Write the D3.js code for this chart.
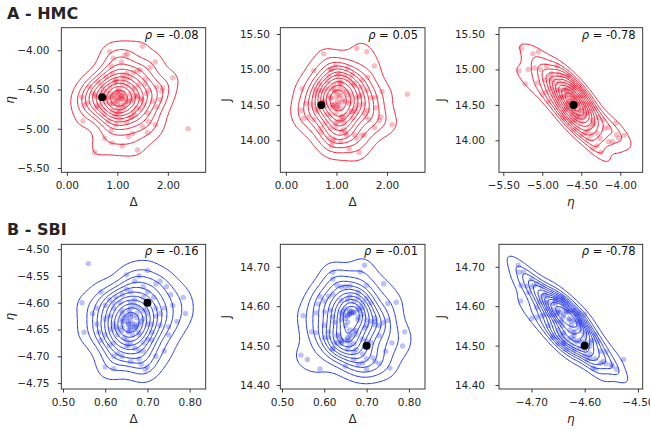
<!DOCTYPE html>
<html><head><meta charset="utf-8">
<script src="https://cdn.jsdelivr.net/npm/d3@7"></script>
<style>body{margin:0;background:#fff} svg{display:block} text{font-family:"DejaVu Sans",sans-serif}</style>
</head><body><script>
// ---------------- DATA ----------------
const hmcDelta=[1.02,0.88,1.15,1.30,0.74,0.95,2.10,2.40,1.08,1.22,0.62,1.45,1.00,0.82,1.18,0.98,1.35,1.05,0.70,1.40,
1.60,0.75,1.75,1.50,0.85,1.45,1.25,0.90,0.55,1.10,1.20,0.30,0.32,1.05,0.92,1.12,0.66,1.55,1.28,0.58,
0.96,1.38,1.03,1.16,0.88,0.97,0.80,1.25,1.60,0.45,1.00,1.10,1.32,1.22,0.68,1.48,0.90,1.10,1.40,1.05,
0.78,1.70,1.88,1.02,1.15,0.85,0.60,1.35,1.08,0.94,1.20,1.62,1.18,0.98,0.40,1.06,0.72,1.42,1.30,0.88,
0.52,0.84,1.15,1.02,1.35,0.88,1.78,1.05,1.65,1.50,1.85,1.12,0.76,0.95,1.25,0.99,1.08,0.92,0.65,1.32,
1.78,1.00,1.10,0.55,0.95,1.48,0.80,1.12,1.02,0.90,1.20,1.62,1.38,1.55,0.58,0.82,1.28,0.72,0.98,1.40,
1.08,1.58,1.15,0.90,0.35,1.90,1.75,1.30,1.52,0.92];
const hmcEta=[-4.60,-4.55,-4.70,-4.48,-4.82,-4.62,-4.35,-5.00,-4.58,-4.66,-4.40,-4.75,-4.52,-4.90,-4.30,-4.64,-4.57,-4.78,-4.45,-5.27,
-5.05,-5.12,-4.95,-3.95,-4.02,-4.25,-4.35,-4.30,-5.30,-5.22,-4.05,-4.60,-4.90,-4.62,-4.68,-4.54,-4.71,-4.43,-4.85,-4.59,
-4.38,-4.73,-4.50,-4.66,-4.20,-4.95,-4.61,-4.56,-4.80,-4.47,-4.69,-4.62,-4.28,-5.10,-4.55,-4.63,-4.77,-4.42,-4.58,-4.88,
-4.34,-4.65,-4.52,-4.74,-4.60,-4.46,-4.70,-4.83,-4.15,-4.57,-4.64,-4.51,-4.92,-4.39,-4.67,-4.59,-4.76,-4.44,-4.62,-5.02,
-4.55,-4.68,-4.36,-4.80,-4.49,-4.61,-4.72,-4.53,-4.22,-4.97,-4.63,-4.58,-4.66,-4.41,-4.86,-4.54,-4.70,-4.10,-4.60,-4.79,
-4.47,-4.65,-4.33,-4.57,-4.84,-4.62,-4.52,-4.74,-4.56,-4.68,-4.45,-4.91,-4.60,-4.37,-4.73,-4.59,-4.64,-4.50,-4.81,-4.26,
-4.62,-4.55,-4.06,-5.18,-4.70,-4.48,-4.15,-5.06,-4.69,-4.58];
const hmcJ=[14.55,14.35,14.71,14.41,14.56,14.77,14.22,14.65,14.28,14.64,14.41,14.62,14.61,14.83,14.10,14.24,14.77,14.82,14.11,15.30,
15.25,15.22,15.05,14.07,14.03,13.83,13.88,13.92,14.98,14.80,14.08,14.42,14.73,14.52,14.46,14.54,14.80,14.39,14.64,14.64,
14.51,14.40,14.26,14.91,14.17,14.68,14.49,14.52,14.71,14.33,14.69,14.34,14.32,15.02,14.17,14.75,14.60,14.13,14.60,14.94,
14.24,14.60,14.33,14.91,14.15,14.63,14.44,14.80,13.98,14.49,14.69,14.42,14.55,14.18,14.52,14.74,14.70,14.50,14.40,15.00,
14.50,14.90,14.29,14.49,14.08,14.59,14.61,14.63,14.29,14.85,14.28,14.58,14.54,14.02,14.86,14.39,14.64,13.98,14.70,14.93,
14.46,14.45,14.45,14.29,14.71,14.64,14.73,14.33,14.46,14.73,14.36,14.89,14.45,14.08,14.72,14.37,14.56,14.53,15.05,14.03,
14.82,14.33,14.24,15.00,14.31,14.69,14.18,14.81,14.51,14.50];

const sbiDelta=[0.66,0.64,0.67,0.70,0.63,0.68,0.72,0.65,0.66,0.69,0.61,0.655,0.745,0.56,0.59,0.65,0.785,0.62,0.695,0.685,
0.55,0.74,0.72,0.60,0.755,0.545,0.79,0.67,0.64,0.65,0.68,0.62,0.70,0.66,0.67,0.63,0.69,0.67,0.61,0.71,
0.60,0.655,0.675,0.64,0.70,0.75,0.58,0.70,0.72,0.66,0.69,0.62,0.65,0.71,0.68,0.59,0.645,0.73,0.66,0.67,
0.68,0.69,0.64,0.67,0.64,0.75,0.58,0.76,0.655,0.665,0.615,0.625,0.66,0.685,0.70,0.645,0.635,0.675,0.655,0.72,
0.62,0.61,0.68,0.66,0.64,0.63,0.665,0.64,0.655,0.655,0.665,0.60,0.70,0.68,0.73,0.65,0.57,0.77,0.62,0.60,
0.71,0.675,0.66,0.66,0.68,0.695,0.64,0.67,0.65,0.62,0.715,0.69,0.585,0.655,0.74,0.69,0.625,0.66,0.73,0.70];
const sbiEta=[-4.633,-4.62,-4.65,-4.60,-4.66,-4.64,-4.61,-4.67,-4.625,-4.59,-4.68,-4.64,-4.57,-4.527,-4.58,-4.548,-4.59,-4.723,-4.725,-4.715,
-4.655,-4.69,-4.70,-4.72,-4.585,-4.60,-4.62,-4.645,-4.635,-4.628,-4.66,-4.61,-4.64,-4.675,-4.605,-4.65,-4.615,-4.685,-4.595,-4.64,
-4.63,-4.655,-4.62,-4.70,-4.58,-4.645,-4.61,-4.668,-4.625,-4.60,-4.69,-4.64,-4.575,-4.655,-4.61,-4.67,-4.635,-4.62,-4.65,-4.595,
-4.705,-4.63,-4.645,-4.56,-4.615,-4.66,-4.64,-4.605,-4.68,-4.625,-4.65,-4.59,-4.71,-4.635,-4.62,-4.665,-4.60,-4.645,-4.64,-4.565,
-4.675,-4.625,-4.655,-4.61,-4.585,-4.695,-4.64,-4.63,-4.65,-4.615,-4.66,-4.605,-4.72,-4.55,-4.642,-4.68,-4.62,-4.635,-4.60,-4.66,
-4.67,-4.628,-4.645,-4.58,-4.69,-4.612,-4.652,-4.64,-4.625,-4.70,-4.59,-4.57,-4.655,-4.635,-4.61,-4.675,-4.645,-4.62,-4.56,-4.54];
const sbiJ=[14.585,14.515,14.585,14.511,14.525,14.598,14.553,14.594,14.501,14.479,14.625,14.515,14.486,14.465,14.441,14.448,14.499,14.686,14.704,14.687,
14.576,14.657,14.569,14.613,14.443,14.476,14.535,14.584,14.505,14.569,14.592,14.493,14.620,14.580,14.537,14.505,14.579,14.611,14.535,14.508,
14.585,14.616,14.490,14.649,14.467,14.564,14.583,14.551,14.561,14.580,14.597,14.573,14.512,14.561,14.565,14.624,14.588,14.525,14.540,14.465,
14.635,14.516,14.614,14.484,14.509,14.607,14.533,14.507,14.575,14.586,14.590,14.509,14.651,14.590,14.565,14.578,14.526,14.529,14.578,14.460,
14.630,14.521,14.621,14.513,14.513,14.653,14.525,14.566,14.520,14.560,14.582,14.552,14.653,14.452,14.551,14.650,14.535,14.610,14.491,14.520,
14.609,14.539,14.625,14.527,14.572,14.545,14.583,14.505,14.551,14.669,14.469,14.456,14.606,14.490,14.558,14.610,14.559,14.590,14.454,14.440];

const truthDelta=0.7, truthEta=-4.6, truthJ=14.5;
const rhoLabels=[["-0.08","0.05","-0.78"],["-0.16","-0.01","-0.78"]];
const rowTitles=["A - HMC","B - SBI"];

const hmcDeltaDomain=[-0.11,2.75], hmcEtaDomain=[-5.555,-3.713], hmcJDomain=[13.549,15.589];
const sbiDeltaDomain=[0.496,0.838], sbiEtaDomain=[-4.761,-4.491], sbiJDomain=[14.390,14.757];

const hmcDeltaTicks=[0,1,2], hmcEtaTicks=[-5.5,-5,-4.5,-4], hmcJTicks=[14,14.5,15,15.5];
const sbiDeltaTicks=[0.5,0.6,0.7,0.8], sbiEtaTicksY=[-4.75,-4.7,-4.65,-4.6,-4.55,-4.5], sbiEtaTicksX=[-4.7,-4.6,-4.5], sbiJTicks=[14.4,14.5,14.6,14.7];

// ---------------- LAYOUT ----------------
const W=650,H=431;
const svg=d3.select("body").append("svg").attr("width",W).attr("height",H);
const colsX=[[61.3,205.7],[280.3,425],[499,642.7]];
const rowsY=[[27.7,172.3],[244.3,389]];
const yTickRight=[49.5,270,485];
const yLabelX=[14,229.5,444.5];
const textCol="#262626";
const fmt=d3.format(".2f");

const rows=[
  {line:"#e8213a", pt:"#e8213a",
   vars:{d:hmcDelta,e:hmcEta,j:hmcJ},
   dom:{d:hmcDeltaDomain,e:hmcEtaDomain,j:hmcJDomain},
   ticksX:{d:hmcDeltaTicks,e:hmcEtaTicks}, ticksY:{e:hmcEtaTicks,j:hmcJTicks}},
  {line:"#2236e6", pt:"#2236e6",
   vars:{d:sbiDelta,e:sbiEta,j:sbiJ},
   dom:{d:sbiDeltaDomain,e:sbiEtaDomain,j:sbiJDomain},
   ticksX:{d:sbiDeltaTicks,e:sbiEtaTicksX}, ticksY:{e:sbiEtaTicksY,j:sbiJTicks}}
];
const pairs=[["d","e"],["d","j"],["e","j"]];
const labels={d:"Δ",e:"η",j:"J"};
const truth={d:truthDelta,e:truthEta,j:truthJ};

function kde(xs,ys,sx,sy,x0,y0,w,h,nx,ny,adj){
  const n=xs.length, mx=d3.mean(xs), my=d3.mean(ys);
  let a=0,b=0,c=0;
  for(let i=0;i<n;i++){const dx=xs[i]-mx,dy=ys[i]-my;a+=dx*dx;b+=dy*dy;c+=dx*dy;}
  a/=(n-1);b/=(n-1);c/=(n-1);
  const f=Math.pow(n,-1/6)*adj, f2=f*f;
  const cxx=a*f2,cyy=b*f2,cxy=c*f2, det=cxx*cyy-cxy*cxy;
  const ixx=cyy/det, iyy=cxx/det, ixy=-cxy/det;
  const vals=new Float64Array(nx*ny);
  for(let j=0;j<ny;j++){
    const yv=sy.invert(y0+j*h/(ny-1));
    for(let i=0;i<nx;i++){
      const xv=sx.invert(x0+i*w/(nx-1));
      let s=0;
      for(let k=0;k<n;k++){const dx=xv-xs[k],dy=yv-ys[k];s+=Math.exp(-0.5*(ixx*dx*dx+2*ixy*dx*dy+iyy*dy*dy));}
      vals[j*nx+i]=s;
    }
  }
  return vals;
}
function isoLevels(vals,L,thresh){
  const sorted=Array.from(vals).sort((p,q)=>q-p);
  const total=d3.sum(sorted); let cum=0;
  const cums=sorted.map(v=>(cum+=v)/total);
  const props=d3.range(L).map(i=>thresh+i*(1-thresh)/(L-1)).slice(0,L-1);
  return props.map(p=>sorted[Math.min(d3.bisectLeft(cums,1-p),sorted.length-1)]).sort((p,q)=>p-q);
}

rows.forEach((row,ri)=>{
  const [yTop,yBot]=rowsY[ri];
  svg.append("text").attr("x",7).attr("y",ri===0?19:234.5).attr("font-size",16).attr("font-weight","bold")
    .attr("fill",textCol).text(rowTitles[ri]);
  pairs.forEach(([vx,vy],ci)=>{
    const [xL,xR]=colsX[ci];
    const sx=d3.scaleLinear().domain(row.dom[vx]).range([xL,xR]);
    const sy=d3.scaleLinear().domain(row.dom[vy]).range([yBot,yTop]);
    const g=svg.append("g");
    const clipId="clip"+ri+ci;
    g.append("clipPath").attr("id",clipId).append("rect").attr("x",xL).attr("y",yTop).attr("width",xR-xL).attr("height",yBot-yTop);
    const plot=g.append("g").attr("clip-path",`url(#${clipId})`);
    const xs=row.vars[vx], ys=row.vars[vy];
    plot.selectAll("circle.pt").data(d3.range(xs.length)).join("circle").attr("class","pt")
      .attr("cx",i=>sx(xs[i])).attr("cy",i=>sy(ys[i])).attr("r",2.7)
      .attr("fill",row.pt).attr("fill-opacity",0.3);
    const nx=120, ny=120, w=xR-xL, h=yBot-yTop;
    const vals=kde(xs,ys,sx,sy,xL,yTop,w,h,nx,ny,1.15);
    const levels=isoLevels(vals,12,0.05);
    const conts=d3.contours().size([nx,ny]).thresholds(levels)(vals);
    const proj=d3.geoTransform({point:function(x,y){this.stream.point(xL+(x-0.5)*w/(nx-1), yTop+(y-0.5)*h/(ny-1));}});
    const path=d3.geoPath(proj);
    plot.selectAll("path.ct").data(conts).join("path").attr("class","ct").attr("d",path)
      .attr("fill","none").attr("stroke",row.line).attr("stroke-width",1).attr("stroke-linejoin","round");
    plot.append("circle").attr("cx",sx(truth[vx])).attr("cy",sy(truth[vy])).attr("r",4).attr("fill","#000");
    g.append("rect").attr("x",xL).attr("y",yTop).attr("width",w).attr("height",h)
      .attr("fill","none").attr("stroke",textCol).attr("stroke-width",0.9);
    const ax=g.append("g").attr("transform",`translate(0,${yBot})`)
      .call(d3.axisBottom(sx).tickValues(row.ticksX[vx]).tickFormat(fmt).tickSize(3.5).tickPadding(6));
    const ay=g.append("g").attr("transform",`translate(${xL},0)`)
      .call(d3.axisLeft(sy).tickValues(row.ticksY[vy]).tickFormat(fmt).tickSize(3.5).tickPadding(xL-yTickRight[ci]-3.5));
    [ax,ay].forEach(a=>{
      a.select(".domain").remove();
      a.selectAll("line").attr("stroke",textCol).attr("stroke-width",0.9);
      a.selectAll("text").attr("fill",textCol).attr("font-size",10.5).attr("font-family","DejaVu Sans");
    });
    g.append("text").attr("x",(xL+xR)/2).attr("y",yBot+34).attr("text-anchor","middle")
      .attr("font-size",12).attr("fill",textCol)
      .attr("font-style",vx==="e"?"italic":"normal").text(labels[vx]);
    g.append("text").attr("transform",`translate(${yLabelX[ci]},${(yTop+yBot)/2}) rotate(-90)`)
      .attr("text-anchor","middle").attr("font-size",12).attr("fill",textCol)
      .attr("font-style",vy==="e"?"italic":"normal").text(labels[vy]);
    const t=g.append("text").attr("x",xR-7).attr("y",yTop+11).attr("text-anchor","end")
      .attr("font-size",11.5).attr("fill","#111");
    t.append("tspan").attr("font-style","italic").text("ρ");
    t.append("tspan").text(" = "+rhoLabels[ri][ci]);
  });
});
</script></body></html>
